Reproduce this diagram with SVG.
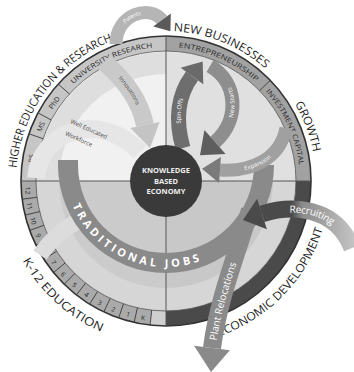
<svg xmlns="http://www.w3.org/2000/svg" width="354" height="372" viewBox="0 0 354 372">
<defs>
<style>
.lbl{font-family:"Open Sans","Liberation Sans",sans-serif;fill:#1e1e1e;}
.big{font-size:11.5px;}
.band{font-size:7px;fill:#2a2a2a;}
.num{font-size:6.5px;fill:#222;}
.wt{font-family:"Open Sans","Liberation Sans",sans-serif;fill:#fff;}
.dk{font-family:"Open Sans","Liberation Sans",sans-serif;fill:#4a4a4a;font-size:6px;}
.tick{stroke:#3a3a3a;stroke-width:0.9;}
.arw{fill:none;}
</style>
<path id="pOuter" d="M16,181 A150,150 0 0 1 316,181"/>
<path id="pBandTop" d="M32,181 A134,134 0 0 1 300,181"/>
<path id="pNums" d="M25,181 A141,141 0 0 0 166,322"/>
<path id="pEcon" d="M166,345 A164,164 0 0 0 330,181"/>
<path id="pK12" d="M2,181 A164,164 0 0 0 166,345"/>
<path id="pTrad" d="M68,165 A98,98 0 0 0 264,165"/>
<path id="pPatents" d="M116,44 C116,14 150,4 162,20"/>
<path id="pInnov" d="M104,62 C125,80 140,100 145,125"/>
<path id="pSpin" d="M183,148 C175,120 178,95 192,76"/>
<path id="pNewR" d="M215,142 C240,120 238,82 210,66"/>
<path id="pExpR" d="M220,170 C250,172 280,160 286,128"/>
<path id="pRecR" d="M262,214 C290,205 335,205 352,248"/>
<path id="pPlantR" d="M212,348 C218,300 238,250 250,210"/>
<linearGradient id="gRec" x1="250" y1="0" x2="354" y2="0" gradientUnits="userSpaceOnUse">
<stop offset="0" stop-color="#4a4a4a"/><stop offset="0.4" stop-color="#4a4a4a"/><stop offset="0.5" stop-color="#8a8a8a"/><stop offset="1" stop-color="#c4c4c4"/>
</linearGradient>
</defs>
<rect width="354" height="372" fill="#ffffff"/>

<g id="wheel">
<path d="M166,181 L36,181 A130,130 0 0 1 166,51 Z" fill="#f1f1f1"/>
<path d="M166,181 L166,51 A130,130 0 0 1 296,181 Z" fill="#e0e0e0"/>
<path d="M166,181 L296,181 A130,130 0 0 1 166,311 Z" fill="#c8c8c8"/>
<path d="M166,181 L166,311 A130,130 0 0 1 36,181 Z" fill="#cbcbcb"/>
<path d="M48,181 A118,118 0 0 0 284,181" fill="none" stroke="#d6d6d6" stroke-width="22"/>
<path d="M48,181 A118,118 0 0 1 166,63" fill="none" stroke="#dedede" stroke-width="22"/>
<path d="M21,181 A145,145 0 0 1 166,36 L166,51 A130,130 0 0 0 36,181 Z" fill="#c6c6c6"/>
<path d="M166,36 A145,145 0 0 1 311,181 L296,181 A130,130 0 0 0 166,51 Z" fill="#a2a2a2"/>
<path d="M311,181 A145,145 0 0 1 166,326 L166,311 A130,130 0 0 0 296,181 Z" fill="#4a4a4a"/>
<path d="M166,326 A145,145 0 0 1 21,181 L36,181 A130,130 0 0 0 166,311 Z" fill="#aaaaaa"/>
<path d="M150,325 A145,145 0 0 0 166,326 L166,311 A130,130 0 0 1 151.7,310.2 Z" fill="#cfcfcf"/>
<circle cx="166" cy="181" r="145" fill="none" stroke="#333" stroke-width="1.6"/>
<circle cx="166" cy="181" r="130" fill="none" stroke="#555" stroke-width="0.8"/>
<line x1="21" y1="181" x2="311" y2="181" stroke="#555" stroke-width="1"/>
<line x1="166" y1="36" x2="166" y2="326" stroke="#555" stroke-width="1"/>
<g class="tick">
<line x1="43.1" y1="138.7" x2="28.9" y2="133.8"/>
<line x1="51.2" y1="120" x2="38" y2="112.9"/>
<line x1="69.4" y1="94" x2="58.2" y2="84"/>
<line x1="259.5" y1="90.7" x2="270.3" y2="80.3"/>
<line x1="37" y1="197.3" x2="22.1" y2="199.2"/>
<line x1="39.6" y1="211.6" x2="25.1" y2="215.1"/>
<line x1="43.8" y1="225.3" x2="29.7" y2="230.4"/>
<line x1="49.5" y1="238.6" x2="36" y2="245.2"/>
<line x1="56.6" y1="251.2" x2="44" y2="259.3"/>
<line x1="65.1" y1="263" x2="53.5" y2="272.5"/>
<line x1="74.7" y1="273.6" x2="64.2" y2="284.2"/>
<line x1="85.6" y1="283.2" x2="76.3" y2="295"/>
<line x1="97.5" y1="291.5" x2="89.6" y2="304.2"/>
<line x1="110.2" y1="298.4" x2="103.8" y2="312"/>
<line x1="123.5" y1="303.9" x2="118.6" y2="318"/>
<line x1="137.4" y1="307.8" x2="134.1" y2="322.4"/>
<line x1="151.7" y1="310.2" x2="150.1" y2="325.1"/>
</g>
</g>

<g id="band-labels">
<text class="lbl band"><textPath href="#pBandTop" startOffset="22.2" text-anchor="middle">BS</textPath></text>
<text class="lbl band"><textPath href="#pBandTop" startOffset="55" text-anchor="middle">MS</textPath></text>
<text class="lbl band"><textPath href="#pBandTop" startOffset="81.9" text-anchor="middle">PhD</textPath></text>
<text class="lbl band"><textPath href="#pBandTop" startOffset="108" textLength="89" lengthAdjust="spacingAndGlyphs">UNIVERSITY RESEARCH</textPath></text>
<text class="lbl band"><textPath href="#pBandTop" startOffset="223" textLength="86" lengthAdjust="spacingAndGlyphs">ENTREPRENEURSHIP</textPath></text>
<text class="lbl band"><textPath href="#pBandTop" startOffset="323" textLength="82" lengthAdjust="spacingAndGlyphs">INVESTMENT CAPITAL</textPath></text>
<g class="lbl num">
<text><textPath href="#pNums" startOffset="9.8" text-anchor="middle">12</textPath></text>
<text><textPath href="#pNums" startOffset="25.6" text-anchor="middle">11</textPath></text>
<text><textPath href="#pNums" startOffset="41.1" text-anchor="middle">10</textPath></text>
<text><textPath href="#pNums" startOffset="56.9" text-anchor="middle">9</textPath></text>
<text><textPath href="#pNums" startOffset="72.6" text-anchor="middle">8</textPath></text>
<text><textPath href="#pNums" startOffset="88.4" text-anchor="middle">7</textPath></text>
<text><textPath href="#pNums" startOffset="103.9" text-anchor="middle">6</textPath></text>
<text><textPath href="#pNums" startOffset="119.6" text-anchor="middle">5</textPath></text>
<text><textPath href="#pNums" startOffset="135.4" text-anchor="middle">4</textPath></text>
<text><textPath href="#pNums" startOffset="151.1" text-anchor="middle">3</textPath></text>
<text><textPath href="#pNums" startOffset="166.6" text-anchor="middle">2</textPath></text>
<text><textPath href="#pNums" startOffset="182.4" text-anchor="middle">1</textPath></text>
<text><textPath href="#pNums" startOffset="198.1" text-anchor="middle">K</textPath></text>
</g>
</g>

<g id="outer-labels">
<text class="lbl big"><textPath href="#pOuter" startOffset="13" textLength="168" lengthAdjust="spacingAndGlyphs">HIGHER EDUCATION &amp; RESEARCH</textPath></text>
<text class="lbl big"><textPath href="#pOuter" startOffset="243" textLength="101" lengthAdjust="spacingAndGlyphs">NEW BUSINESSES</textPath></text>
<text class="lbl big"><textPath href="#pOuter" startOffset="390" textLength="52" lengthAdjust="spacingAndGlyphs">GROWTH</textPath></text>
<text class="lbl big"><textPath href="#pEcon" startOffset="54" textLength="155" lengthAdjust="spacingAndGlyphs">ECONOMIC DEVELOPMENT</textPath></text>
<text class="lbl big"><textPath href="#pK12" startOffset="83" textLength="108" lengthAdjust="spacingAndGlyphs">K-12 EDUCATION</textPath></text>
</g>

<g id="connectors">
<path d="M40,255 C52,238 64,228 80,220" class="arw" stroke="#dcdcdc" stroke-width="16"/>
<path d="M36,178 C40,130 100,110 140,152" class="arw" stroke="#e6e6e6" stroke-width="18"/>
<path d="M68,160 L68,165 A98,98 0 0 0 264,165 L264,167" class="arw" stroke="#8a8a8a" stroke-width="20"/>
<path d="M116,44 C116,14 150,4 162,20" class="arw" stroke="#b5b5b5" stroke-width="13"/>
<polygon points="170.8,13.4 153.2,26.6 170.4,31.2" fill="#5a5a5a"/>
<path d="M104,62 C125,80 140,100 145,125" class="arw" stroke="#c9c9c9" stroke-width="18"/>
<polygon points="159.7,122.1 130.3,127.9 150,148" fill="#c4c4c4"/>
<path d="M183,148 C175,120 178,95 192,76" class="arw" stroke="#6e6e6e" stroke-width="15"/>
<polygon points="203.3,84.3 180.7,67.7 202.7,61.5" fill="#6a6a6a"/>
<path d="M210,66 C238,82 240,120 215,142" class="arw" stroke="#8e8e8e" stroke-width="14"/>
<polygon points="225.6,154 204.4,130 200,155.2" fill="#5e5e5e"/>
<path d="M286,128 C280,160 250,172 220,170" class="arw" stroke="#a0a0a0" stroke-width="13"/>
<polygon points="220.9,157 219.1,183 202,168.8" fill="#7a7a7a"/>
<path d="M250,210 C238,250 218,300 212,348" class="arw" stroke="#8a8a8a" stroke-width="18"/>
<polygon points="229.9,350.2 194.1,345.8 211,372" fill="#8a8a8a"/>
<path d="M352,248 C335,205 290,205 262,214" class="arw" stroke="url(#gRec)" stroke-width="17"/>
<polygon points="266.9,229.2 257.1,198.8 243,220.1" fill="#4a4a4a"/>
</g>

<g id="arrow-labels">
<text class="wt" font-size="11" font-weight="bold" dy="4"><textPath href="#pTrad" startOffset="40" textLength="147" lengthAdjust="spacing">TRADITIONAL JOBS</textPath></text>
<text class="wt" font-size="5.5" dy="2"><textPath href="#pPatents" startOffset="50%" text-anchor="middle">Patents</textPath></text>
<text class="dk" dy="2"><textPath href="#pInnov" startOffset="50%" text-anchor="middle">Innovations</textPath></text>
<text class="wt" font-size="6" dy="2"><textPath href="#pSpin" startOffset="50%" text-anchor="middle">Spin-Offs</textPath></text>
<text class="wt" font-size="6" dy="2"><textPath href="#pNewR" startOffset="50%" text-anchor="middle">New Starts</textPath></text>
<text class="wt" font-size="6" dy="2"><textPath href="#pExpR" startOffset="45%" text-anchor="middle">Expansion</textPath></text>
<text class="wt" font-size="10" dy="3.5"><textPath href="#pRecR" startOffset="28">Recruiting</textPath></text>
<text class="wt" font-size="10" dy="3.5"><textPath href="#pPlantR" startOffset="8">Plant Relocations</textPath></text>
<text class="dk" font-size="6.5" transform="translate(88,131) rotate(24)" text-anchor="middle">Well Educated</text>
<text class="dk" font-size="6.5" transform="translate(78,141) rotate(24)" text-anchor="middle">Workforce</text>
</g>

<g id="knowledge-economy">
<circle cx="166" cy="181" r="36" fill="#3a3a3a"/>
<g font-family="Open Sans,Liberation Sans,sans-serif" font-size="7.5" font-weight="bold" fill="#eeeeee" text-anchor="middle">
<text x="166" y="173">KNOWLEDGE</text>
<text x="166" y="183.5">BASED</text>
<text x="166" y="194">ECONOMY</text>
</g>
</g>
</svg>
